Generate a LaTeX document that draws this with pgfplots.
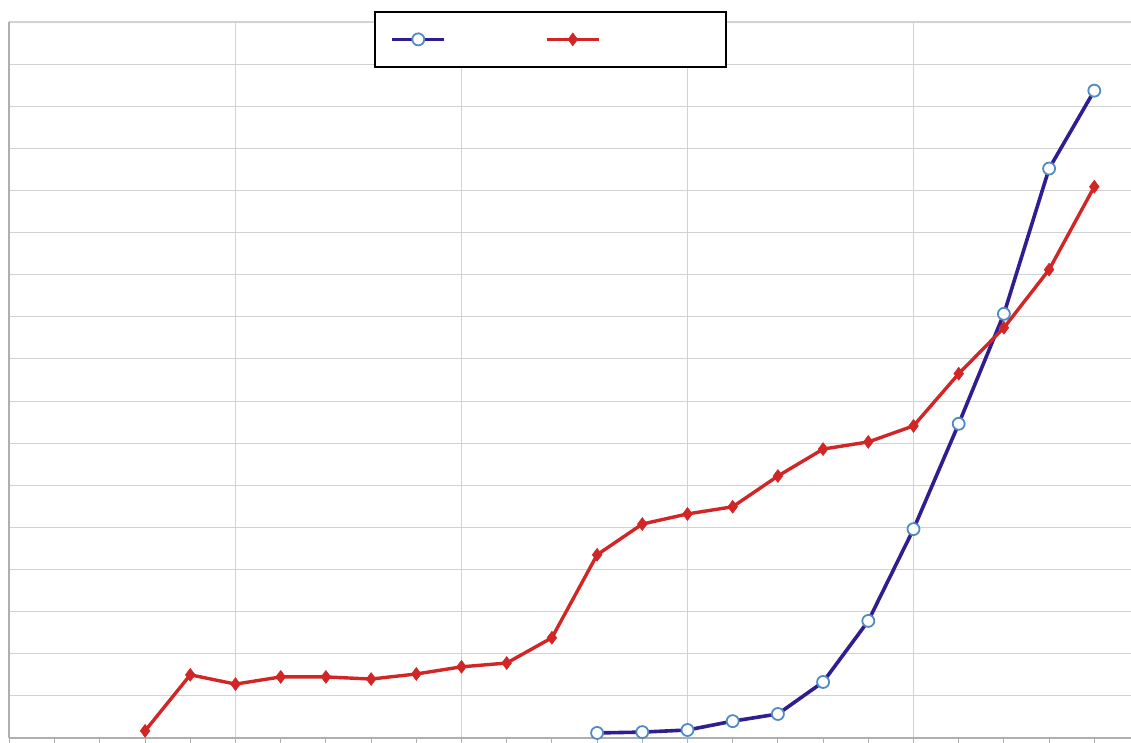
\documentclass[border=0pt]{standalone}
\usepackage{pgfplots}
\pgfplotsset{compat=1.18}
\definecolor{gridgray}{RGB}{210,210,210}
\definecolor{axgray}{RGB}{175,175,175}
\definecolor{bluel}{RGB}{48,30,145}
\definecolor{bluemk}{RGB}{80,140,195}
\definecolor{redl}{RGB}{210,38,38}
\pgfplotstableread{
x y
3 0.17
4 1.50
5 1.28
6 1.45
7 1.45
8 1.40
9 1.52
10 1.69
11 1.78
12 2.38
13 4.35
14 5.08
15 5.32
16 5.49
17 6.22
18 6.86
19 7.03
20 7.41
21 8.65
22 9.74
23 11.12
24 13.09
}\redtab
\pgfplotstableread{
x y
13 0.12
14 0.14
15 0.19
16 0.40
17 0.57
18 1.33
19 2.78
20 4.96
21 7.46
22 10.07
23 13.52
24 15.37
}\bluetab
\begin{document}
\begin{tikzpicture}
\begin{axis}[
  scale only axis,
  width=1175.2pt, height=716pt,
  xmin=0, xmax=26, ymin=0, ymax=17,
  axis x line*=bottom, axis y line*=left,
  axis line style={axgray, line width=2pt},
  xtick={5,10,15,20}, minor xtick={0,...,25},
  ytick={0,...,17},
  xticklabels={}, yticklabels={},
  xmajorgrids, ymajorgrids,
  grid style={gridgray, line width=1.1pt},
  x tick style={axgray, line width=1.1pt},
  y tick style={draw=none},
  tick align=outside,
  major tick length=5pt, minor tick length=5pt,
  clip=false,
  legend columns=2,
  legend style={at={(axis cs:8.075,17.27)}, anchor=north west,
    draw=black, line width=2pt, fill=white,
    inner xsep=15pt, inner ysep=15pt,
    nodes={inner sep=0pt},
    /tikz/every even column/.style={column sep=0pt}},
  legend image code/.code={\draw[mark repeat=2,mark phase=2,#1] plot coordinates {(0pt,0pt)(26pt,0pt)(52pt,0pt)};},
]
\addplot[bluel, line width=3.6pt, mark=*, mark size=6pt,
  mark options={fill=white, draw=bluemk, line width=1.8pt}] table[x=x,y=y] {\bluetab};
\addlegendentry{\rule[-16pt]{0pt}{40pt}\hspace*{99pt}}
\addplot[redl, line width=3.4pt, mark=diamond*, mark size=6.5pt,
  mark options={fill=redl, draw=redl, line width=0.5pt}] table[x=x,y=y] {\redtab};
\addlegendentry{\rule[-16pt]{0pt}{40pt}\hspace*{111pt}}
\end{axis}
\pgfresetboundingbox
\path (-9.5pt,-4pt) rectangle (1121.5pt,738pt);
\end{tikzpicture}
\end{document}
